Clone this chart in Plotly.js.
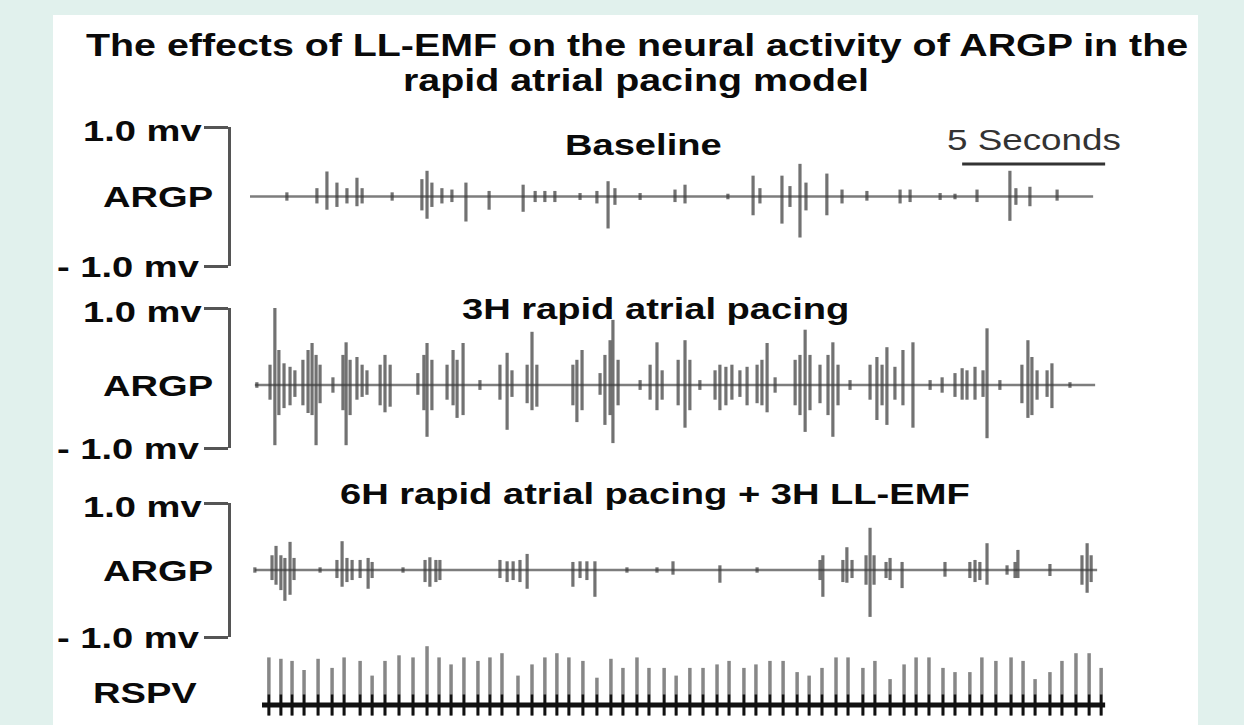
<!DOCTYPE html>
<html><head><meta charset="utf-8">
<script src="https://cdn.plot.ly/plotly-3.0.1.min.js"></script>
<style>
html,body{margin:0;padding:0;background:#e1f1ed;}
#chart{width:1244px;height:725px;}
.annotation-text{transform-box:fill-box;transform-origin:50% 50%;transform:scaleX(1.27);}
</style></head><body><div id="chart"></div><script>
// ---------- DATA (time in seconds, amplitude in mV) ----------
const titleLines = ['The effects of LL-EMF on the neural activity of ARGP in the', 'rapid atrial pacing model'];
const panelTitles = ['Baseline', '3H rapid atrial pacing', '6H rapid atrial pacing + 3H LL-EMF'];
const channelLabels = ['ARGP', 'ARGP', 'ARGP', 'RSPV'];
const mvLabels = ['1.0 mv', '- 1.0 mv'];
const scaleBarLabel = '5 Seconds';
const scaleBarSeconds = [24.9, 29.9];

// Baseline ARGP recording
const baseSpan = [0, 29.48];
const baseT = [1.29,2.34,2.69,3.04,3.39,3.74,3.92,4.97,6.01,6.19,6.36,6.71,7.06,7.55,8.36,9.55,9.97,10.31,10.66,11.54,12.13,12.52,12.76,13.64,14.86,15.21,16.71,17.59,17.83,18.6,18.88,19.23,19.44,20.17,20.7,21.57,22.73,23.08,24.13,24.65,25.42,26.57,26.78,27.27,28.22];
const baseUp = [0.06,0.12,0.36,0.2,0.12,0.27,0.12,0.06,0.25,0.37,0.2,0.12,0.1,0.2,0.08,0.17,0.08,0.08,0.08,0.05,0.08,0.22,0.12,0.05,0.1,0.17,0.04,0.3,0.12,0.3,0.15,0.47,0.2,0.33,0.1,0.08,0.1,0.1,0.05,0.04,0.1,0.37,0.12,0.14,0.1];
const baseDown = [0.06,0.1,0.19,0.15,0.1,0.14,0.1,0.06,0.2,0.32,0.15,0.1,0.08,0.36,0.19,0.22,0.08,0.08,0.08,0.05,0.1,0.46,0.12,0.05,0.08,0.1,0.04,0.27,0.1,0.39,0.15,0.59,0.2,0.27,0.1,0.06,0.1,0.08,0.05,0.04,0.08,0.35,0.12,0.14,0.06];

// 3H rapid atrial pacing ARGP recording
const pace3Span = [0.17, 29.55];
const pace3T = [0.24,0.70,0.87,1.01,1.19,1.40,1.57,1.85,2.03,2.17,2.31,2.45,2.90,3.25,3.36,3.50,3.74,3.92,4.09,4.55,4.72,4.90,5.87,6.08,6.19,6.36,6.89,7.10,7.24,7.45,8.04,8.74,8.99,9.16,9.69,9.86,10.03,11.29,11.43,11.61,12.24,12.41,12.59,12.69,12.87,13.64,13.99,14.23,14.41,14.97,15.21,15.38,15.73,16.26,16.43,16.64,16.85,17.13,17.38,17.73,17.90,18.08,18.36,19.06,19.23,19.41,19.58,19.93,20.21,20.38,20.56,20.98,21.68,21.92,22.10,22.27,22.55,22.83,23.18,23.78,24.20,24.65,24.90,25.07,25.35,25.63,25.77,26.22,26.99,27.20,27.34,27.52,27.87,28.04,28.67];
const pace3Up = [0.04,0.29,1.10,0.50,0.31,0.26,0.21,0.36,0.50,0.60,0.43,0.29,0.11,0.43,0.61,0.36,0.40,0.29,0.21,0.29,0.43,0.29,0.17,0.43,0.60,0.36,0.29,0.50,0.36,0.60,0.07,0.29,0.46,0.21,0.29,0.76,0.29,0.29,0.36,0.50,0.17,0.43,0.64,0.93,0.36,0.07,0.29,0.61,0.21,0.36,0.64,0.36,0.07,0.21,0.29,0.26,0.29,0.21,0.26,0.29,0.36,0.60,0.11,0.36,0.43,0.79,0.43,0.29,0.43,0.61,0.29,0.07,0.29,0.40,0.29,0.54,0.26,0.50,0.61,0.07,0.11,0.17,0.24,0.21,0.26,0.21,0.81,0.07,0.29,0.64,0.40,0.21,0.21,0.31,0.04];
const pace3Down = [0.04,0.21,0.86,0.43,0.33,0.29,0.17,0.29,0.40,0.43,0.86,0.26,0.11,0.36,0.86,0.43,0.21,0.17,0.14,0.29,0.39,0.31,0.14,0.36,0.74,0.36,0.21,0.29,0.47,0.43,0.07,0.21,0.64,0.17,0.26,0.36,0.31,0.29,0.53,0.36,0.14,0.57,0.43,0.83,0.29,0.07,0.21,0.36,0.21,0.29,0.61,0.36,0.07,0.21,0.36,0.29,0.21,0.17,0.29,0.26,0.29,0.39,0.11,0.29,0.43,0.67,0.36,0.26,0.43,0.74,0.29,0.07,0.21,0.50,0.29,0.57,0.21,0.29,0.61,0.07,0.11,0.17,0.21,0.21,0.21,0.17,0.76,0.07,0.26,0.47,0.43,0.21,0.17,0.33,0.04];

// 6H rapid atrial pacing + 3H LL-EMF ARGP recording
const emfSpan = [0.17, 29.62];
const emfT = [0.17,0.77,0.91,1.08,1.22,1.40,1.54,2.45,3.04,3.22,3.39,3.57,3.85,4.13,4.27,5.35,6.12,6.29,6.50,6.64,8.74,8.99,9.20,9.44,9.69,11.29,11.54,11.78,12.06,13.18,14.23,14.79,16.43,17.73,19.93,20.03,20.73,20.87,21.05,21.54,21.68,21.82,22.24,22.38,22.80,24.30,25.17,25.35,25.52,25.77,26.47,26.75,26.85,27.97,29.09,29.27,29.41];
const emfUp = [0.04,0.22,0.36,0.22,0.18,0.42,0.18,0.04,0.15,0.43,0.18,0.15,0.15,0.18,0.12,0.04,0.15,0.19,0.15,0.15,0.15,0.13,0.13,0.15,0.24,0.12,0.13,0.13,0.13,0.04,0.04,0.13,0.07,0.04,0.15,0.22,0.15,0.34,0.15,0.22,0.63,0.22,0.12,0.18,0.12,0.12,0.12,0.15,0.12,0.40,0.07,0.12,0.30,0.09,0.22,0.40,0.22];
const emfDown = [0.04,0.15,0.22,0.30,0.46,0.37,0.15,0.04,0.12,0.25,0.18,0.15,0.12,0.28,0.12,0.04,0.18,0.25,0.18,0.15,0.12,0.18,0.15,0.18,0.28,0.25,0.12,0.15,0.40,0.04,0.04,0.07,0.19,0.04,0.15,0.40,0.18,0.19,0.12,0.22,0.70,0.22,0.12,0.15,0.27,0.10,0.12,0.18,0.15,0.22,0.07,0.12,0.12,0.09,0.22,0.34,0.18];

// RSPV paced electrogram
const rspvSpan = [0.42, 29.9];
const rspvT = [0.66,1.08,1.47,1.89,2.38,2.87,3.29,3.85,4.27,4.72,5.21,5.70,6.19,6.61,7.03,7.48,7.97,8.39,8.81,9.37,9.86,10.31,10.73,11.15,11.64,12.13,12.62,13.04,13.53,13.95,14.48,14.90,15.38,15.84,16.33,16.75,17.27,17.69,18.18,18.64,19.13,19.55,20.00,20.49,20.91,21.43,21.85,22.38,22.87,23.29,23.74,24.23,24.65,25.17,25.59,26.08,26.61,27.03,27.45,27.97,28.39,28.88,29.34,29.76];
const rspvUp = [0.68,0.66,0.63,0.50,0.66,0.53,0.68,0.63,0.42,0.63,0.71,0.68,0.84,0.68,0.58,0.68,0.63,0.68,0.74,0.42,0.58,0.68,0.74,0.68,0.63,0.39,0.66,0.53,0.68,0.53,0.53,0.42,0.53,0.53,0.58,0.63,0.53,0.58,0.63,0.63,0.47,0.42,0.53,0.68,0.68,0.53,0.63,0.37,0.58,0.68,0.68,0.53,0.47,0.47,0.68,0.63,0.68,0.63,0.37,0.47,0.63,0.74,0.74,0.53];
const rspvDown = 0.15;

// ---------- DRAWING ----------
const W = 1244, H = 725;
const px = x => x / W, py = y => 1 - y / H;

function spikeXY(t, up, down) {
  const x = [], y = [];
  t.forEach((v, i) => { x.push(v, v, null); y.push(up[i], -(Array.isArray(down) ? down[i] : down), null); });
  return {x, y};
}
function baseline(span, ya, color, width) {
  return {type:'scatter', mode:'lines', x:span, y:[0,0], xaxis:'x', yaxis:ya,
    line:{color, width}, hoverinfo:'skip', showlegend:false};
}
function spikeTrace(t, up, down, ya, color, width) {
  const s = spikeXY(t, up, down);
  return {type:'scatter', mode:'lines', x:s.x, y:s.y, xaxis:'x', yaxis:ya, connectgaps:false,
    line:{color, width}, hoverinfo:'skip', showlegend:false};
}

const sigColor = 'rgba(60,60,60,0.72)';
const traces = [
  baseline(baseSpan, 'y', '#7d7d7d', 2.5),
  spikeTrace(baseT, baseUp, baseDown, 'y', sigColor, 3.2),
  baseline(pace3Span, 'y2', '#7d7d7d', 2.5),
  spikeTrace(pace3T, pace3Up, pace3Down, 'y2', sigColor, 3.2),
  baseline(emfSpan, 'y3', '#7d7d7d', 2.5),
  spikeTrace(emfT, emfUp, emfDown, 'y3', sigColor, 3.2),
  spikeTrace(rspvT, rspvUp, rspvDown, 'y4', 'rgba(105,105,105,0.8)', 3.5),
  baseline(rspvSpan, 'y4', '#111', 5),
  spikeTrace(rspvT, rspvT.map(() => rspvDown), rspvDown, 'y4', '#111', 2.5)
];

const panelRanges = [[-1, 1], [-0.9, 1.1], [-1, 1]];
function bracketAxis(domain, range) {
  return {domain, range, anchor:'free', position:229/W, showline:true, linecolor:'#555', linewidth:3,
    ticks:'outside', ticklen:24, tickwidth:3, tickcolor:'#555', tickmode:'array', tickvals:range,
    showticklabels:false, showgrid:false, zeroline:false, fixedrange:true};
}

const boldFont = {family:'Liberation Sans, Arial, sans-serif', size:30, color:'#0a0a0a', weight:'bold'};
const annotations = [];
annotations.push({text:titleLines[0], x:px(637), y:py(45), xref:'paper', yref:'paper', showarrow:false, xanchor:'center', yanchor:'middle', font:{...boldFont, size:31}});
annotations.push({text:titleLines[1], x:px(636), y:py(80), xref:'paper', yref:'paper', showarrow:false, xanchor:'center', yanchor:'middle', font:{...boldFont, size:31}});
const panelTitleXY = [[643,145],[655,308],[655,493]];
panelTitles.forEach((t, i) => annotations.push({text:t, x:px(panelTitleXY[i][0]), y:py(panelTitleXY[i][1]), xref:'paper', yref:'paper', showarrow:false, xanchor:'center', yanchor:'middle', font:boldFont}));
['y','y2','y3'].forEach((ya, i) => {
  annotations.push({text:mvLabels[0], x:px(142), y:panelRanges[i][1], xref:'paper', yref:ya, yshift:-3, showarrow:false, xanchor:'center', yanchor:'middle', font:boldFont});
  annotations.push({text:mvLabels[1], x:px(128), y:panelRanges[i][0], xref:'paper', yref:ya, showarrow:false, xanchor:'center', yanchor:'middle', font:boldFont});
  annotations.push({text:channelLabels[i], x:px(158), y:0, xref:'paper', yref:ya, showarrow:false, xanchor:'center', yanchor:'middle', font:boldFont});
});
annotations.push({text:channelLabels[3], x:px(145), y:py(692), xref:'paper', yref:'paper', showarrow:false, xanchor:'center', yanchor:'middle', font:boldFont});
annotations.push({text:scaleBarLabel, x:(scaleBarSeconds[0]+scaleBarSeconds[1])/2, y:py(140), xref:'x', yref:'paper', showarrow:false, xanchor:'center', yanchor:'middle', font:{family:'Liberation Sans, Arial, sans-serif', size:29, color:'#333'}});

const layout = {
  width:W, height:H, margin:{l:0, r:0, t:0, b:0},
  paper_bgcolor:'#e1f1ed', plot_bgcolor:'rgba(0,0,0,0)',
  showlegend:false,
  xaxis:{domain:[250/W, 1108/W], range:[0, 30], visible:false, fixedrange:true},
  yaxis:bracketAxis([py(266), py(127)], panelRanges[0]),
  yaxis2:bracketAxis([py(448), py(308)], panelRanges[1]),
  yaxis3:bracketAxis([py(637), py(503)], panelRanges[2]),
  yaxis4:{domain:[py(719), py(635)], range:[-0.2, 1.0], visible:false, anchor:'x', fixedrange:true},
  shapes:[
    {type:'rect', xref:'paper', yref:'paper', x0:px(53), x1:px(1198), y0:0, y1:py(15), fillcolor:'#ffffff', line:{width:0}, layer:'below'},
    {type:'line', xref:'x', yref:'paper', x0:scaleBarSeconds[0], x1:scaleBarSeconds[1], y0:py(164), y1:py(164), line:{color:'#333', width:3}}
  ],
  annotations
};
Plotly.newPlot('chart', traces, layout, {displayModeBar:false, staticPlot:true});
</script></body></html>
